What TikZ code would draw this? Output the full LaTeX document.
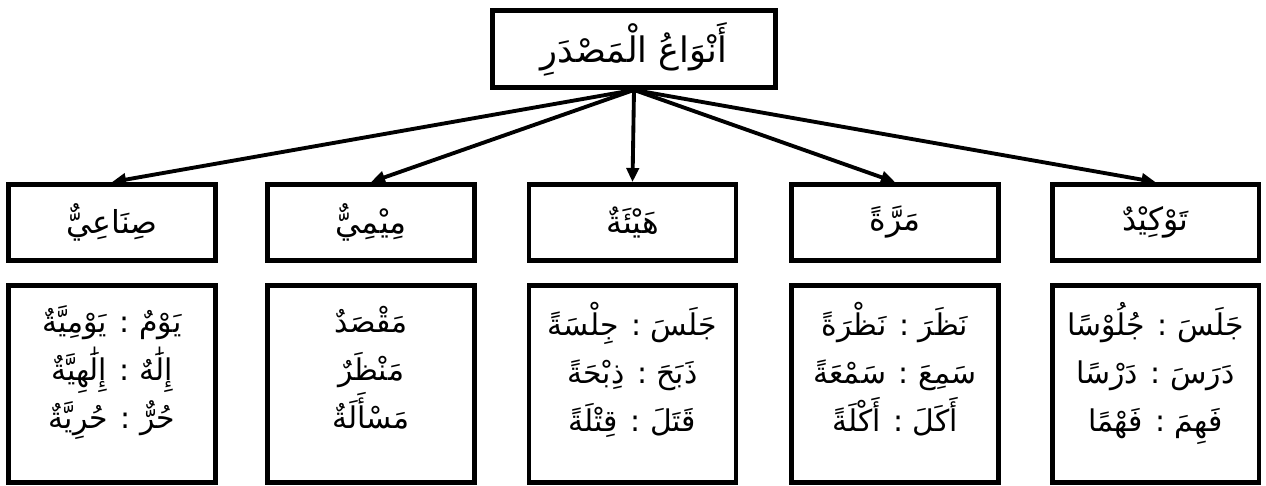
\documentclass[tikz,border=0pt]{standalone}
\usepackage{fontspec}
\newfontfamily\arabicfont[Script=Arabic]{DejaVu Sans}
\TeXXeTstate=1
\usetikzlibrary{arrows.meta}
\newcommand\rl[1]{\beginR #1\endR}
\begin{document}
\begin{tikzpicture}[x=0.02cm,y=-0.02cm,
  box/.style={draw, line width=2.8pt, inner sep=0pt, align=center},
  topbox/.style={box, minimum width=5.66cm, minimum height=1.54cm, font=\arabicfont\fontsize{20}{24}\selectfont},
  midbox/.style={box, minimum width=4.14cm, minimum height=1.52cm, font=\arabicfont\fontsize{18}{22}\selectfont},
  lowbox/.style={box, minimum width=4.14cm, minimum height=3.94cm, font=\arabicfont\fontsize{17}{27.3}\selectfont},
  conn/.style={line width=2.2pt, -{Triangle[length=8pt,width=7pt]}}]
\useasboundingbox (0,0) rectangle (1266,486);
\node[topbox] (top) at (634,49) {\rl{أَنْوَاعُ الْمَصْدَرِ}};

\node[midbox] (m1) at (112,222.5) {\rl{صِنَاعِيٌّ}};
\node[midbox] (m2) at (371,222.5) {\rl{مِيْمِيٌّ}};
\node[midbox] (m3) at (632.5,222.5) {\rl{هَيْئَةٌ}};
\node[midbox] (m4) at (895,222.5) {\rl{مَرَّةً}};
\node[midbox] (m5) at (1155.5,222.5) {\rl{تَوْكِيْدٌ}};

\node[lowbox] (b1) at (112,384) {\rl{يَوْمٌ : يَوْمِيَّةٌ}\\ \rl{إِلَٰهٌ : إِلَٰهِيَّةٌ}\\ \rl{حُرٌّ : حُرِيَّةٌ}\\[-8pt]};
\node[lowbox] (b2) at (371,384) {\rl{مَقْصَدٌ}\\ \rl{مَنْظَرٌ}\\ \rl{مَسْأَلَةٌ}\\[-8pt]};
\node[lowbox] (b3) at (632.5,384) {\rl{جَلَسَ : جِلْسَةً}\\ \rl{ذَبَحَ : ذِبْحَةً}\\ \rl{قَتَلَ : قِتْلَةً}\\[-8pt]};
\node[lowbox] (b4) at (895,384) {\rl{نَظَرَ : نَظْرَةً}\\ \rl{سَمِعَ : سَمْعَةً}\\ \rl{أَكَلَ : أَكْلَةً}\\[-8pt]};
\node[lowbox] (b5) at (1155.5,384) {\rl{جَلَسَ : جُلُوْسًا}\\ \rl{دَرَسَ : دَرْسًا}\\ \rl{فَهِمَ : فَهْمًا}\\[-8pt]};

\foreach \n in {m1,m2,m3,m4,m5}
  \draw[conn] (top.south) -- (\n.north);
\end{tikzpicture}
\end{document}
